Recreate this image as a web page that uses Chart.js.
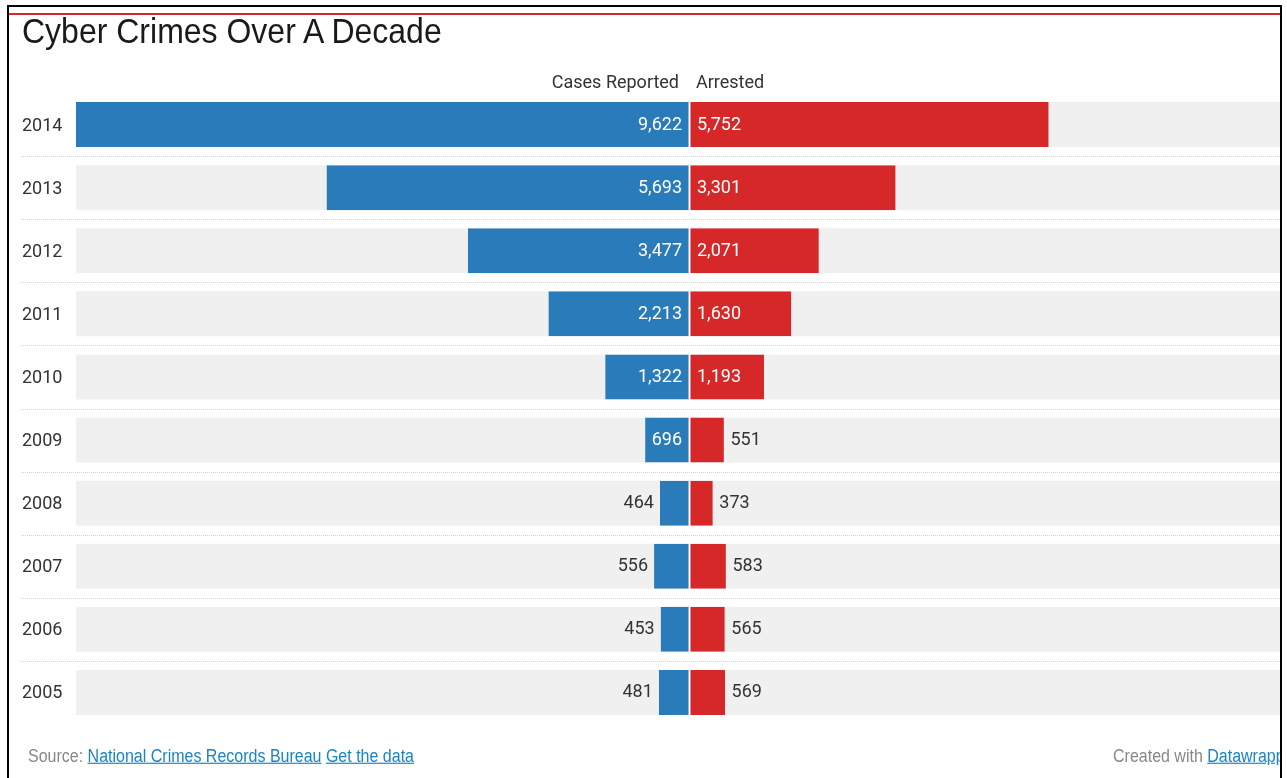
<!DOCTYPE html>
<html>
<head>
<meta charset="utf-8">
<title>Cyber Crimes Over A Decade</title>
<script src="https://cdn.jsdelivr.net/npm/chart.js@4.4.1/dist/chart.umd.min.js"></script>
<style>
    body { margin: 0; width: 1287px; height: 778px; overflow: hidden; background: #fff; position: relative; }
    #rowChart { position: absolute; left: 0; top: 0; }
    .frame { position: absolute; left: 7px; top: 5px; width: 1271px; height: 800px; border: 2px solid #000; border-bottom: none; pointer-events: none; }
    .rule { position: absolute; left: 9px; top: 13px; width: 1271px; height: 2px; background: #d3292b; }
    h1 { position: absolute; left: 22px; top: 16px; margin: 0; font: normal 32px/32px "Liberation Sans", Arial, sans-serif; color: #1a1a1a; white-space: nowrap; transform-origin: left bottom; transform: scaleY(1.1); }
    .source { position: absolute; left: 28px; top: 749px; font: 16px/16px "Liberation Sans", Arial, sans-serif; color: #888; white-space: nowrap; transform-origin: left bottom; transform: scaleY(1.15); }
    .credit-clip { position: absolute; left: 1000px; top: 740px; width: 280px; height: 30px; overflow: hidden; }
    .credit { position: absolute; left: 113px; top: 9px; font: 16px/16px "Liberation Sans", Arial, sans-serif; color: #888; white-space: nowrap; transform-origin: left bottom; transform: scaleY(1.15); }
    a { color: #1a84c6; text-decoration: underline; }
</style>
</head>
<body>
<canvas id="rowChart" width="1287" height="778"></canvas>
<div class="rule"></div>
<div class="frame"></div>
<h1>Cyber Crimes Over A Decade</h1>
<div class="source">Source: <a>National Crimes Records Bureau</a> <a>Get the data</a></div>
<div class="credit-clip"><div class="credit">Created with <a>Datawrapper</a></div></div>

<script>
const years = ['2014', '2013', '2012', '2011', '2010', '2009', '2008', '2007', '2006', '2005'];
const casesReported = [9622, 5693, 3477, 2213, 1322, 696, 464, 556, 453, 481];
const arrested = [5752, 3301, 2071, 1630, 1193, 551, 373, 583, 565, 569];
const seriesNames = ['Cases Reported', 'Arrested'];

const blue = '#2a7bb9';
const red = '#d62829';
const bandColor = '#f0f0f0';
const textDark = '#333333';
const labelFont = '18px Roboto';

// grey row backgrounds + dotted separators
const rowBands = {
    id: 'rowBands',
    beforeDatasetsDraw(chart) {
        const { ctx, chartArea, scales: { y } } = chart;
        const bars = chart.getDatasetMeta(0).data;
        ctx.save();
        ctx.fillStyle = bandColor;
        bars.forEach(bar => {
            ctx.fillRect(chartArea.left, bar.y - bar.height / 2, chartArea.right - chartArea.left, bar.height);
        });
        ctx.strokeStyle = '#d4d4d4';
        ctx.lineWidth = 1;
        ctx.setLineDash([1, 1]);
        for (let i = 0; i < years.length - 1; i++) {
            const yy = Math.round((y.getPixelForValue(i) + y.getPixelForValue(i + 1)) / 2) + 0.5;
            ctx.beginPath();
            ctx.moveTo(21, yy);
            ctx.lineTo(chartArea.right, yy);
            ctx.stroke();
        }
        ctx.restore();
    }
};

// value labels, inside the bar when they fit
const valueLabels = {
    id: 'valueLabels',
    afterDatasetsDraw(chart) {
        const { ctx, chartArea } = chart;
        ctx.save();
        ctx.font = labelFont;
        ctx.textBaseline = 'alphabetic';

        chart.data.datasets.forEach((ds, di) => {
            const values = di === 0 ? casesReported : arrested;
            chart.getDatasetMeta(di).data.forEach((bar, i) => {
                const text = values[i].toLocaleString('en-US');
                const tw = ctx.measureText(text).width;
                const barW = Math.abs(bar.x - bar.base);
                const inside = barW > tw + 12;
                ctx.fillStyle = inside ? '#ffffff' : textDark;
                let x;
                if (di === 0) {
                    ctx.textAlign = 'right';
                    x = inside ? bar.base - 7.5 : bar.x - 6;
                } else {
                    ctx.textAlign = 'left';
                    x = inside ? bar.base + 7.5 : bar.x + 6.5;
                }
                ctx.fillText(text, x, bar.y + 5);
            });
        });

        // column headers
        const zero = chart.scales.x.getPixelForValue(0);
        ctx.fillStyle = textDark;
        ctx.textAlign = 'right';
        ctx.fillText(seriesNames[0], zero - 10.5, chartArea.top - 5);
        ctx.textAlign = 'left';
        ctx.fillText(seriesNames[1], zero + 6.5, chartArea.top - 5);
        ctx.restore();
    }
};

const ctx = document.getElementById('rowChart').getContext('2d');
const chart = new Chart(ctx, {
    type: 'bar',
    data: {
        labels: years,
        datasets: [{
            label: seriesNames[0],
            data: casesReported.map(v => -v),
            xAxisID: 'x',
            backgroundColor: blue,
            borderColor: '#ffffff',
            borderWidth: { right: 1 },
            borderSkipped: false,
            grouped: false,
            barPercentage: 0.713,
            categoryPercentage: 1
        }, {
            label: seriesNames[1],
            data: arrested,
            xAxisID: 'x2',
            backgroundColor: red,
            borderColor: '#ffffff',
            borderWidth: { left: 1 },
            borderSkipped: false,
            grouped: false,
            barPercentage: 0.713,
            categoryPercentage: 1
        }]
    },
    options: {
        indexAxis: 'y',
        responsive: false,
        animation: false,
        layout: { padding: { top: 93, bottom: 54, left: 22, right: 7 } },
        plugins: {
            legend: { display: false },
            tooltip: { enabled: false },
            title: { display: false }
        },
        scales: {
            x: { type: 'linear', display: false, min: -9622, max: 9261 },
            x2: { type: 'linear', axis: 'x', display: false, min: -9824, max: 9456 },
            y: {
                grid: { display: false },
                border: { display: false },
                ticks: {
                    crossAlign: 'far',
                    color: textDark,
                    padding: 0,
                    labelOffset: 1.5,
                    font: { family: 'Roboto', size: 18 }
                },
                afterFit(scale) {
                    scale.width = 54;
                }
            }
        }
    },
    plugins: [rowBands, valueLabels]
});
</script>
</body>
</html>
